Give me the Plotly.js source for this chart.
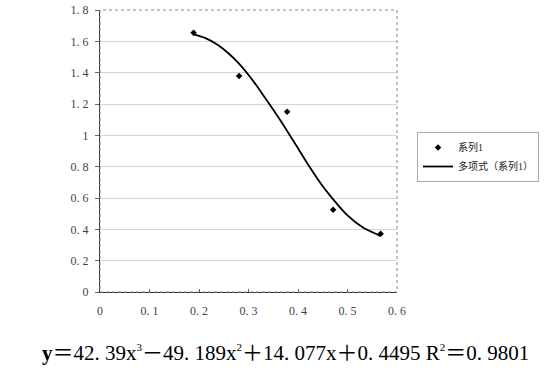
<!DOCTYPE html>
<html><head><meta charset="utf-8">
<script src="https://cdn.plot.ly/plotly-3.0.1.min.js"></script>
<style>body{margin:0;background:#fff}#c{width:560px;height:372px}</style>
</head><body><div id="c"></div>
<script>
const dataX = [0.189, 0.281, 0.378, 0.471, 0.567];
const dataY = [1.655, 1.379, 1.151, 0.525, 0.372];
const fitX = [0.1886, 0.2121, 0.239, 0.2593, 0.2794, 0.3064, 0.3333, 0.3636, 0.3906, 0.4242, 0.4512, 0.4714, 0.4983, 0.532, 0.5623, 0.566];
const fitY = [1.645, 1.622, 1.575, 1.524, 1.463, 1.360, 1.240, 1.100, 0.965, 0.795, 0.670, 0.590, 0.494, 0.410, 0.364, 0.358];
const xTicks = [0, 0.1, 0.2, 0.3, 0.4, 0.5, 0.6];
const xTickText = ["0", "0. 1", "0. 2", "0. 3", "0. 4", "0. 5", "0. 6"];
const yTicks = [0, 0.2, 0.4, 0.6, 0.8, 1.0, 1.2, 1.4, 1.6, 1.8];
const yTickText = ["0", "0. 2", "0. 4", "0. 6", "0. 8", "1", "1. 2", "1. 4", "1. 6", "1. 8"];
const seriesName = "系列1";
const fitName = "多项式（系列1）";
const sup = s => "<sup><span style='font-size:11px'>" + s + "</span></sup>";
const equation = "<b>y</b>＝42. 39x" + sup("3") + "－49. 189x" + sup("2") + "＋14. 077x＋0. 4495 R" + sup("2") + "＝0. 9801";

const tickFont = {family: "Liberation Serif, Noto Sans CJK SC", size: 12, color: "#444"};
const traces = [
  {x: dataX, y: dataY, type: "scatter", mode: "markers", name: seriesName,
   marker: {symbol: "diamond", size: 5, color: "#000"}},
  {x: fitX, y: fitY, type: "scatter", mode: "lines", name: fitName,
   line: {shape: "spline", smoothing: 0.8, color: "#000", width: 1.8}}
];
const pw = 560 - 100 - 163, ph = 372 - 10 - 80;
const layout = {
  width: 560, height: 372,
  margin: {l: 100, r: 163, t: 10, b: 80},
  paper_bgcolor: "#fff", plot_bgcolor: "#fff",
  xaxis: {range: [0, 0.6], tickvals: xTicks, ticktext: xTickText, tickfont: tickFont,
          showgrid: false, zeroline: false, showline: true, linecolor: "#333", linewidth: 1,
          ticks: "inside", ticklen: 3, tickcolor: "#666", ticklabelstandoff: 8, fixedrange: true},
  yaxis: {range: [0, 1.8], tickvals: yTicks, ticktext: yTickText, tickfont: tickFont,
          showgrid: true, gridcolor: "#d4d4d4", gridwidth: 1, zeroline: false,
          showline: true, linecolor: "#333", linewidth: 1,
          ticks: "outside", ticklen: 4, tickcolor: "#666", ticklabelstandoff: 4, fixedrange: true},
  showlegend: true,
  legend: {x: (417 - 100) / pw, y: 1 - (132 - 10) / ph, xanchor: "left", yanchor: "top",
           font: {family: "Liberation Serif, Noto Sans CJK SC", size: 10, color: "#222"},
           bordercolor: "#aaa", borderwidth: 1, bgcolor: "#fff", tracegroupgap: 0,
           itemwidth: 30, tracegroupgap: 0},
  shapes: [
    {type: "rect", xref: "paper", yref: "paper", x0: 0, x1: 1, y0: 0, y1: 1,
     line: {color: "#888", width: 1, dash: "dot"}}
  ],
  annotations: [
    {text: equation, xref: "paper", yref: "paper", x: (285 - 100) / pw, y: -(353 - 292) / ph,
     xanchor: "center", yanchor: "middle", showarrow: false,
     font: {family: "Liberation Serif, Noto Sans CJK SC", size: 21, color: "#000"}}
  ]
};
Plotly.newPlot("c", traces, layout, {displayModeBar: false, staticPlot: true});
</script></body></html>
